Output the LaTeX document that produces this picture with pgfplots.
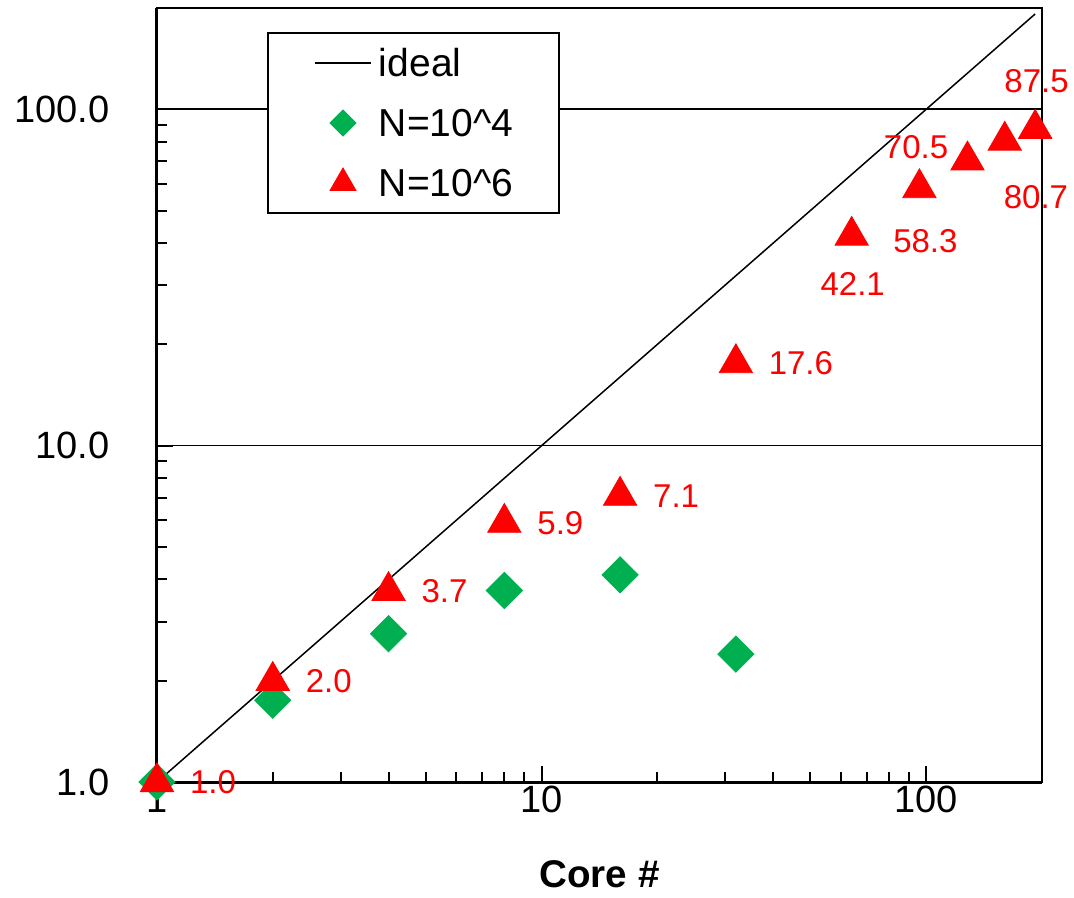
\documentclass[border=0pt]{standalone}
\usepackage{fontspec}
\setmainfont{Liberation Sans}
\usepackage{pgfplots}
\usepackage{pgfplotstable}
\pgfplotsset{compat=1.18}
\definecolor{mygreen}{RGB}{0,176,80}
\pgfplotsset{
  lineleg/.style={legend image code/.code={\draw[##1] (0pt,0pt) -- (28pt,0pt);}},
  diamleg/.style={legend image code/.code={\draw[##1, mark size=4.6pt] plot coordinates {(14pt,0pt)}; \path (0pt,0pt) (28pt,0pt);}},
  trileg/.style={legend image code/.code={\draw[##1, mark size=7.5pt] plot coordinates {(14pt,0pt)}; \path (0pt,0pt) (28pt,0pt);}},
}

\pgfplotstableread{
x y
1 1.0
2 1.75
4 2.76
8 3.71
16 4.13
32 2.40
}\smallN

\pgfplotstableread{
x y lab dx dy
1 1.0 1.0 28 0
2 2.0 2.0 28 0
4 3.7 3.7 28 0
8 5.9 5.9 28 0
16 7.1 7.1 28 0
32 17.6 17.6 32.5 0
64 42.1 42.1 0.5 -24
96 58.3 58.3 3 -26.6
128 70.5 70.5 -25.7 6.5
160 80.7 80.7 15.6 -28.3
192 87.5 87.5 0.7 23.7
}\largeN

\begin{document}
\begin{tikzpicture}
\begin{axis}[
  scale only axis, width=442.5pt, height=387pt,
  xmode=log, ymode=log,
  xmin=1, xmax=200, ymin=1, ymax=200,
  axis line style={line width=1pt},
  xtick={1,10,100}, xticklabels={1,10,100},
  ytick={1,10,100}, yticklabels={1.0,10.0,100.0},
  tick align=inside, xtick pos=lower, ytick pos=left,
  major tick length=8pt, minor tick length=5pt,
  tick style={black, line width=1pt},
  ymajorgrids, major grid style={black, line width=0.8pt},
  tick label style={font=\fontsize{19}{22}\selectfont},
  yticklabel style={inner sep=0pt, xshift=-23.5pt},
  xticklabel style={inner sep=0pt, yshift=-2pt},
  xlabel={Core \#},
  xlabel style={font=\fontsize{19.3}{22}\selectfont\bfseries, at={(axis description cs:0.5,0)}, anchor=north, inner sep=0pt, yshift=-39pt},
  clip=false,
  legend cell align=left,
  legend style={at={(0.1243,0.969)}, anchor=north west, draw=black, line width=1pt, fill=white,
    inner xsep=23pt, inner ysep=4pt, row sep=8pt,
    font=\fontsize{19.5}{22}\selectfont,
    nodes={inner sep=0pt, text height=18pt, text depth=4pt},
    /tikz/every odd column/.append style={column sep=3.5pt}},
]
\addplot[black, line width=0.75pt, lineleg]
  coordinates {(1,1) (192,192)};
\addlegendentry{ideal}

\addplot[only marks, mark=square*, mark size=6.4pt, color=mygreen, mark options={line width=0.4pt, solid, rotate=45}, diamleg]
  table[x=x, y=y] {\smallN};
\addlegendentry{N=10\textasciicircum 4}

\addplot[only marks, mark=triangle*, mark size=9.6pt, color=red, mark options={line width=0.4pt, solid},
  point meta=explicit symbolic, nodes near coords,
  visualization depends on={\thisrow{dx}\as\dx},
  visualization depends on={\thisrow{dy}\as\dy},
  every node near coord/.append style={anchor=center, xshift=\dx pt, yshift=\dy pt, inner sep=0pt,
    font=\fontsize{16.5}{20}\selectfont, text=red},
  trileg]
  table[x=x, y=y, meta=lab] {\largeN};
\addlegendentry{N=10\textasciicircum 6}

\draw[black, line width=1.5pt] (rel axis cs:0,1) -- (rel axis cs:0,0) -- (rel axis cs:1,0);
\end{axis}
\pgfresetboundingbox
\path ([xshift=-78.5pt,yshift=-57.5pt]current axis.south west) rectangle ([xshift=16pt,yshift=4pt]current axis.north east);
\end{tikzpicture}
\end{document}
